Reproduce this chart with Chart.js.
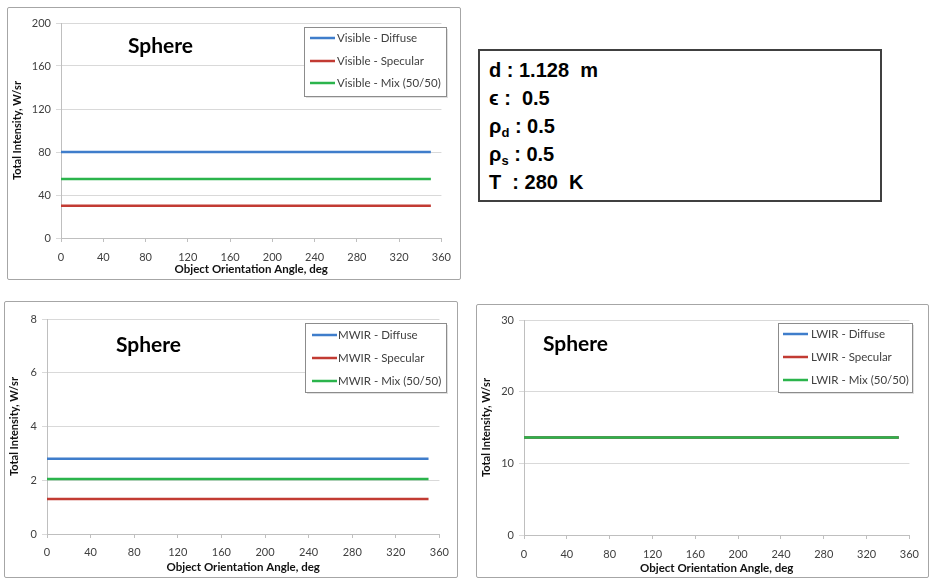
<!DOCTYPE html>
<html>
<head>
<meta charset="utf-8">
<script src="https://cdn.jsdelivr.net/npm/chart.js@4.4.1/dist/chart.umd.min.js"></script>
<style>
  body { margin: 0; background: #fff; width: 932px; height: 578px; position: relative; overflow: hidden; }
  .frame { position: absolute; box-sizing: border-box; border: 1px solid #a6a6a6; border-radius: 2px; background: #fff; }
  canvas { position: absolute; }
  #params { position: absolute; left: 478px; top: 49px; width: 404px; height: 153px; box-sizing: border-box;
            border: 2px solid #404040; padding: 5px 0 0 9px; font-family: "Liberation Sans", Arial, sans-serif;
            font-weight: bold; font-size: 20px; line-height: 28px; color: #000; }
  #params sub { font-size: 13px; line-height: 0; vertical-align: -4px; }
</style>
</head>
<body>
<div class="frame" style="left:7px;top:7px;width:454px;height:273px"></div>
<div class="frame" style="left:4px;top:301px;width:454px;height:277px"></div>
<div class="frame" style="left:476px;top:304px;width:453px;height:274px"></div>
<canvas id="chartVis" width="453" height="272" style="left:7px;top:7px"></canvas>
<canvas id="chartMwir" width="453" height="276" style="left:4px;top:301px"></canvas>
<canvas id="chartLwir" width="452" height="273" style="left:476px;top:304px"></canvas>
<div id="params">
  <div>d : 1.128&nbsp; m</div>
  <div>ϵ :&nbsp; 0.5</div>
  <div>ρ<sub>d</sub> : 0.5</div>
  <div>ρ<sub>s</sub> : 0.5</div>
  <div>T&nbsp; : 280&nbsp; K</div>
</div>
<script>
// --- data ---
const angles = [0, 10, 20, 30, 40, 50, 60, 70, 80, 90, 100, 110, 120, 130, 140, 150, 160, 170,
                180, 190, 200, 210, 220, 230, 240, 250, 260, 270, 280, 290, 300, 310, 320, 330, 340, 350];
const xTicks = [0, 40, 80, 120, 160, 200, 240, 280, 320, 360];

const visDiffuse  = [80, 80, 80, 80, 80, 80, 80, 80, 80, 80, 80, 80, 80, 80, 80, 80, 80, 80, 80, 80, 80, 80, 80, 80, 80, 80, 80, 80, 80, 80, 80, 80, 80, 80, 80, 80];
const visSpecular = [30, 30, 30, 30, 30, 30, 30, 30, 30, 30, 30, 30, 30, 30, 30, 30, 30, 30, 30, 30, 30, 30, 30, 30, 30, 30, 30, 30, 30, 30, 30, 30, 30, 30, 30, 30];
const visMix      = [55, 55, 55, 55, 55, 55, 55, 55, 55, 55, 55, 55, 55, 55, 55, 55, 55, 55, 55, 55, 55, 55, 55, 55, 55, 55, 55, 55, 55, 55, 55, 55, 55, 55, 55, 55];

const mwirDiffuse  = [2.8, 2.8, 2.8, 2.8, 2.8, 2.8, 2.8, 2.8, 2.8, 2.8, 2.8, 2.8, 2.8, 2.8, 2.8, 2.8, 2.8, 2.8, 2.8, 2.8, 2.8, 2.8, 2.8, 2.8, 2.8, 2.8, 2.8, 2.8, 2.8, 2.8, 2.8, 2.8, 2.8, 2.8, 2.8, 2.8];
const mwirSpecular = [1.3, 1.3, 1.3, 1.3, 1.3, 1.3, 1.3, 1.3, 1.3, 1.3, 1.3, 1.3, 1.3, 1.3, 1.3, 1.3, 1.3, 1.3, 1.3, 1.3, 1.3, 1.3, 1.3, 1.3, 1.3, 1.3, 1.3, 1.3, 1.3, 1.3, 1.3, 1.3, 1.3, 1.3, 1.3, 1.3];
const mwirMix      = [2.05, 2.05, 2.05, 2.05, 2.05, 2.05, 2.05, 2.05, 2.05, 2.05, 2.05, 2.05, 2.05, 2.05, 2.05, 2.05, 2.05, 2.05, 2.05, 2.05, 2.05, 2.05, 2.05, 2.05, 2.05, 2.05, 2.05, 2.05, 2.05, 2.05, 2.05, 2.05, 2.05, 2.05, 2.05, 2.05];

const lwirDiffuse  = [13.6, 13.6, 13.6, 13.6, 13.6, 13.6, 13.6, 13.6, 13.6, 13.6, 13.6, 13.6, 13.6, 13.6, 13.6, 13.6, 13.6, 13.6, 13.6, 13.6, 13.6, 13.6, 13.6, 13.6, 13.6, 13.6, 13.6, 13.6, 13.6, 13.6, 13.6, 13.6, 13.6, 13.6, 13.6, 13.6];
const lwirSpecular = [13.6, 13.6, 13.6, 13.6, 13.6, 13.6, 13.6, 13.6, 13.6, 13.6, 13.6, 13.6, 13.6, 13.6, 13.6, 13.6, 13.6, 13.6, 13.6, 13.6, 13.6, 13.6, 13.6, 13.6, 13.6, 13.6, 13.6, 13.6, 13.6, 13.6, 13.6, 13.6, 13.6, 13.6, 13.6, 13.6];
const lwirMix      = [13.6, 13.6, 13.6, 13.6, 13.6, 13.6, 13.6, 13.6, 13.6, 13.6, 13.6, 13.6, 13.6, 13.6, 13.6, 13.6, 13.6, 13.6, 13.6, 13.6, 13.6, 13.6, 13.6, 13.6, 13.6, 13.6, 13.6, 13.6, 13.6, 13.6, 13.6, 13.6, 13.6, 13.6, 13.6, 13.6];

const BLUE = '#3f7dcb', RED = '#c23b33', GREEN = '#2bb44c';
const FONT = 'Lato, Carlito, "Open Sans", sans-serif';

// boxed legend + "Sphere" label, drawn in Excel style
const sphereLegend = {
  id: 'sphereLegend',
  afterDraw(chart, args, o) {
    const ctx = chart.ctx;
    ctx.save();
    ctx.font = 'bold 21px ' + FONT;
    ctx.fillStyle = '#000';
    ctx.textBaseline = 'middle';
    ctx.fillText('Sphere', o.titleX, o.titleY);

    ctx.fillStyle = 'rgba(0,0,0,0.12)';
    ctx.fillRect(o.x + 2, o.y + 2, o.w, o.h);
    ctx.fillStyle = '#fff';
    ctx.fillRect(o.x, o.y, o.w, o.h);
    ctx.strokeStyle = '#8c8c8c';
    ctx.lineWidth = 1;
    ctx.strokeRect(o.x + 0.5, o.y + 0.5, o.w, o.h);

    ctx.font = '11.5px ' + FONT;
    chart.data.datasets.forEach((ds, i) => {
      const y = o.rows[i];
      ctx.strokeStyle = ds.borderColor;
      ctx.lineWidth = 2.5;
      ctx.beginPath();
      ctx.moveTo(o.lineX, y);
      ctx.lineTo(o.lineX + 25, y);
      ctx.stroke();
      ctx.fillStyle = '#404040';
      ctx.fillText(ds.label, o.textX, y);
    });
    ctx.restore();
  }
};

function series(prefix, a, b, c) {
  // order: lower value is drawn on top, so the Mix line sits above the others
  const mk = (label, data, color, order) => ({
    label: prefix + label, order,
    data: data.map((v, i) => ({ x: angles[i], y: v })),
    borderColor: color, borderWidth: 2.5, pointRadius: 0, fill: false, tension: 0
  });
  return [mk(' - Diffuse', a, BLUE, 3), mk(' - Specular', b, RED, 2), mk(' - Mix (50/50)', c, GREEN, 1)];
}

function makeChart(id, datasets, yMax, yStep, box) {
  return new Chart(document.getElementById(id), {
    type: 'line',
    data: { datasets },
    options: {
      responsive: false,
      animation: false,
      layout: { padding: { top: box.padTop, right: box.padRight, left: 0, bottom: 0 } },
      plugins: { legend: { display: false }, tooltip: { enabled: false }, sphereLegend: box.legend },
      scales: {
        x: {
          type: 'linear', min: 0, max: 360,
          afterBuildTicks: s => { s.ticks = xTicks.map(v => ({ value: v })); },
          ticks: { color: '#404040', font: { family: FONT, size: 11 }, padding: box.xPad, maxRotation: 0 },
          grid: { drawOnChartArea: false, color: '#bfbfbf', tickLength: 4 },
          border: { color: '#bfbfbf' },
          title: { display: true, text: 'Object Orientation Angle, deg', color: '#111',
                   font: { family: FONT, size: 11.5, weight: 'bold' }, padding: { top: 0, bottom: box.xTitlePad } },
          afterFit: s => { s.height = box.xHeight; }
        },
        y: {
          min: 0, max: yMax,
          ticks: { stepSize: yStep, color: '#404040', font: { family: FONT, size: 11 }, padding: 5 },
          grid: { color: '#d9d9d9', tickLength: 5 },
          border: { color: '#bfbfbf' },
          title: { display: true, text: 'Total Intensity, W/sr', color: '#111',
                   font: { family: FONT, size: 11, weight: 'bold' }, padding: { top: 4, bottom: 0 } },
          afterFit: s => { s.width = box.yWidth; }
        }
      }
    },
    plugins: [sphereLegend]
  });
}

makeChart('chartVis', series('Visible', visDiffuse, visSpecular, visMix), 200, 40, {
  padTop: 16, padRight: 17, yWidth: 54, xHeight: 41, xPad: 9, xTitlePad: 3,
  legend: { titleX: 121, titleY: 39, x: 297, y: 20, w: 142, h: 69, rows: [31, 54, 76], lineX: 303, textX: 330 }
});

makeChart('chartMwir', series('MWIR', mwirDiffuse, mwirSpecular, mwirMix), 8, 2, {
  padTop: 18, padRight: 15, yWidth: 43, xHeight: 43, xPad: 8, xTitlePad: 3,
  legend: { titleX: 112, titleY: 44, x: 301, y: 22, w: 141, h: 69, rows: [34, 57, 80], lineX: 308, textX: 334 }
});

makeChart('chartLwir', series('LWIR', lwirDiffuse, lwirSpecular, lwirMix), 30, 10, {
  padTop: 16, padRight: 17, yWidth: 48, xHeight: 42, xPad: 9, xTitlePad: 2,
  legend: { titleX: 67, titleY: 40, x: 302, y: 19, w: 134, h: 69, rows: [30, 53, 76], lineX: 307, textX: 335 }
});
</script>
</body>
</html>
